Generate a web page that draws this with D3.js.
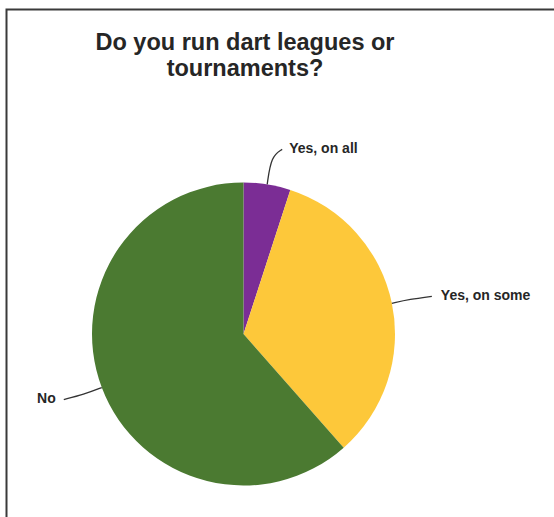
<!DOCTYPE html>
<html>
<head>
<meta charset="utf-8">
<script src="https://cdn.jsdelivr.net/npm/d3@7/dist/d3.min.js"></script>
<style>
  html, body { margin: 0; padding: 0; background: #fff; }
  svg { display: block; }
</style>
</head>
<body>
<svg id="chart" width="554" height="517"></svg>
<script>
// Survey answers (percent of respondents), in clockwise order from 12 o'clock
const categories = ["Yes, on all", "Yes, on some", "No"];
const values = [5, 33.5, 61.5];
const colors = ["#7b2d95", "#fdc83a", "#4b7a31"];
const titleLines = ["Do you run dart leagues or", "tournaments?"];

const W = 554, H = 517;
const cx = 243.5, cy = 334, r = 151.5;

const svg = d3.select("#chart");

// frame
svg.append("rect")
  .attr("x", 6.5).attr("y", 9.5)
  .attr("width", W + 10).attr("height", H + 10)
  .attr("fill", "none").attr("stroke", "#3a3a3a").attr("stroke-width", 2);

// title
svg.append("g")
  .selectAll("text")
  .data(titleLines)
  .join("text")
  .attr("x", 245)
  .attr("y", (d, i) => 50 + i * 25.5)
  .attr("text-anchor", "middle")
  .attr("font-family", "'Liberation Sans', Arial, sans-serif")
  .attr("font-weight", "bold")
  .attr("font-size", 23.5)
  .attr("fill", "#262626")
  .text(d => d);

const data = categories.map((c, i) => ({ name: c, value: values[i], color: colors[i] }));

const pie = d3.pie().value(d => d.value).sort(null);
const arcs = pie(data);
const arc = d3.arc().innerRadius(0).outerRadius(r);

const g = svg.append("g").attr("transform", `translate(${cx},${cy})`);

g.selectAll("path.slice")
  .data(arcs)
  .join("path")
  .attr("class", "slice")
  .attr("d", arc)
  .attr("fill", d => d.data.color);

// leader line layout per slice: [bend offset, end offset] from the rim point, and label anchor
const leader = {
  "Yes, on all":  { bend: [4, -28], end: [15, -35], anchor: "start", dx: 7, dy: 4 },
  "Yes, on some": { bend: [18, -4], end: [40, -7], anchor: "start", dx: 9, dy: 4 },
  "No":           { bend: [-18, 7], end: [-38, 12], anchor: "end", dx: -8, dy: 3 }
};

const line = d3.line().curve(d3.curveBasis);

arcs.forEach(a => {
  const mid = (a.startAngle + a.endAngle) / 2;
  const px = r * Math.sin(mid), py = -r * Math.cos(mid);
  const L = leader[a.data.name];
  const b = [px + L.bend[0], py + L.bend[1]];
  const e = [px + L.end[0], py + L.end[1]];
  g.append("path")
    .attr("d", line([[px, py], b, e]))
    .attr("fill", "none")
    .attr("stroke", "#333")
    .attr("stroke-width", 1.3);
  g.append("text")
    .attr("x", e[0] + L.dx)
    .attr("y", e[1] + L.dy)
    .attr("text-anchor", L.anchor)
    .attr("font-family", "'Liberation Sans', Arial, sans-serif")
    .attr("font-weight", "bold")
    .attr("font-size", 14)
    .attr("fill", "#262626")
    .text(a.data.name);
});
</script>
</body>
</html>
